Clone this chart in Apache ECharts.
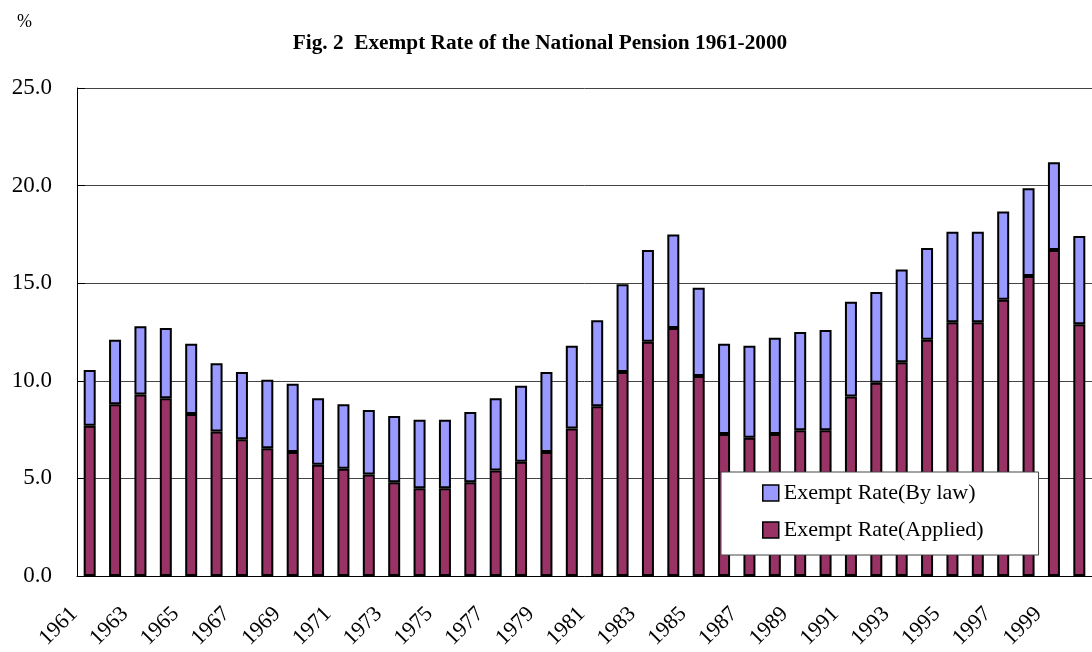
<!DOCTYPE html>
<html>
<head>
<meta charset="utf-8">
<title>Exempt Rate of the National Pension 1961-2000</title>
<script src="https://cdn.jsdelivr.net/npm/echarts@6/dist/echarts.min.js"></script>
<style>
  html, body { margin: 0; padding: 0; background: #fff; }
  #chart { width: 1092px; height: 652px; }
</style>
</head>
<body>
<div id="chart"></div>
<script>
// 年份
var years = [];
for (var y = 1961; y <= 2000; y++) years.push(String(y));

// 申请免除 (下层)
var applied = [7.7, 8.8, 9.3, 9.1, 8.3, 7.4, 7.0, 6.55, 6.35, 5.7,
    5.5, 5.2, 4.8, 4.5, 4.5, 4.8, 5.4, 5.85, 6.35, 7.55,
    8.7, 10.45, 12.0, 12.7, 10.25, 7.27, 7.08, 7.27, 7.47, 7.47,
    9.2, 9.9, 10.95, 12.1, 13.0, 13.0, 14.15, 15.37, 16.7, 12.9];

// 法定免除 (上层)
var byLaw = [2.85, 3.3, 3.5, 3.6, 3.6, 3.5, 3.45, 3.5, 3.5, 3.4,
    3.3, 3.3, 3.4, 3.5, 3.5, 3.6, 3.7, 3.9, 4.1, 4.25,
    4.4, 4.5, 4.7, 4.8, 4.52, 4.63, 4.72, 4.93, 5.03, 5.13,
    4.85, 4.65, 4.75, 4.7, 4.63, 4.63, 4.52, 4.5, 4.5, 4.52];

var yMin = 0, yMax = 25, yStep = 5;

var serif = "'Liberation Serif', 'DejaVu Serif', serif";

var myChart = echarts.init(document.getElementById("chart"));

var option = {
    animation: false,
    backgroundColor: "#fff",
    title: [
        {
            text: "Fig. 2  Exempt Rate of the National Pension 1961-2000",
            left: 535,
            top: 28,
            textAlign: "center",
            textStyle: {
                fontFamily: serif,
                fontWeight: "bold",
                fontSize: 21.3,
                color: "#000"
            }
        },
        {
            text: "%",
            left: 12,
            top: 8,
            textStyle: {
                fontFamily: serif,
                fontWeight: "normal",
                fontSize: 18,
                color: "#000"
            }
        }
    ],
    legend: {
        orient: "vertical",
        left: 721,
        top: 472,
        data: ["Exempt Rate(By law)", "Exempt Rate(Applied)"],
        icon: "rect",
        itemWidth: 16,
        itemHeight: 16,
        itemGap: 15,
        padding: [10, 55, 14, 41],
        backgroundColor: "#fff",
        borderColor: "#444",
        borderWidth: 1,
        itemStyle: {
            borderColor: "#000",
            borderWidth: 1.5
        },
        textStyle: {
            fontFamily: serif,
            fontSize: 22,
            color: "#000"
        }
    },
    grid: {
        left: 77,
        top: 88,
        width: 1017,
        bottom: 76
    },
    xAxis: {
        type: "category",
        data: years,
        axisLine: { lineStyle: { color: "#000", width: 1 } },
        axisTick: {
            inside: true,
            length: 5,
            interval: 0,
            lineStyle: { color: "#666" }
        },
        axisLabel: {
            interval: 1,
            rotate: 45,
            margin: 19,
            padding: [0, 22, 0, 0],
            fontFamily: serif,
            fontSize: 22,
            color: "#000"
        }
    },
    yAxis: {
        type: "value",
        min: yMin,
        max: yMax,
        interval: yStep,
        axisLine: { show: true, lineStyle: { color: "#000", width: 1 } },
        axisTick: {
            show: true,
            inside: true,
            length: 8,
            lineStyle: { color: "#000" }
        },
        splitLine: { lineStyle: { color: "#444", width: 1 } },
        axisLabel: {
            margin: 25,
            fontFamily: serif,
            fontSize: 23,
            color: "#000",
            formatter: function (v) { return v.toFixed(1); }
        }
    },
    series: [
        {
            name: "Exempt Rate(Applied)",
            type: "bar",
            stack: "rate",
            data: applied,
            barWidth: 12,
            itemStyle: {
                color: "#993366",
                borderColor: "#000",
                borderWidth: 2
            }
        },
        {
            name: "Exempt Rate(By law)",
            type: "bar",
            stack: "rate",
            data: byLaw,
            barWidth: 12,
            itemStyle: {
                color: "#9999ff",
                borderColor: "#000",
                borderWidth: 2
            }
        }
    ]
};

myChart.setOption(option);
window.addEventListener("resize", function () {
    myChart.resize();
});
</script>
</body>
</html>
